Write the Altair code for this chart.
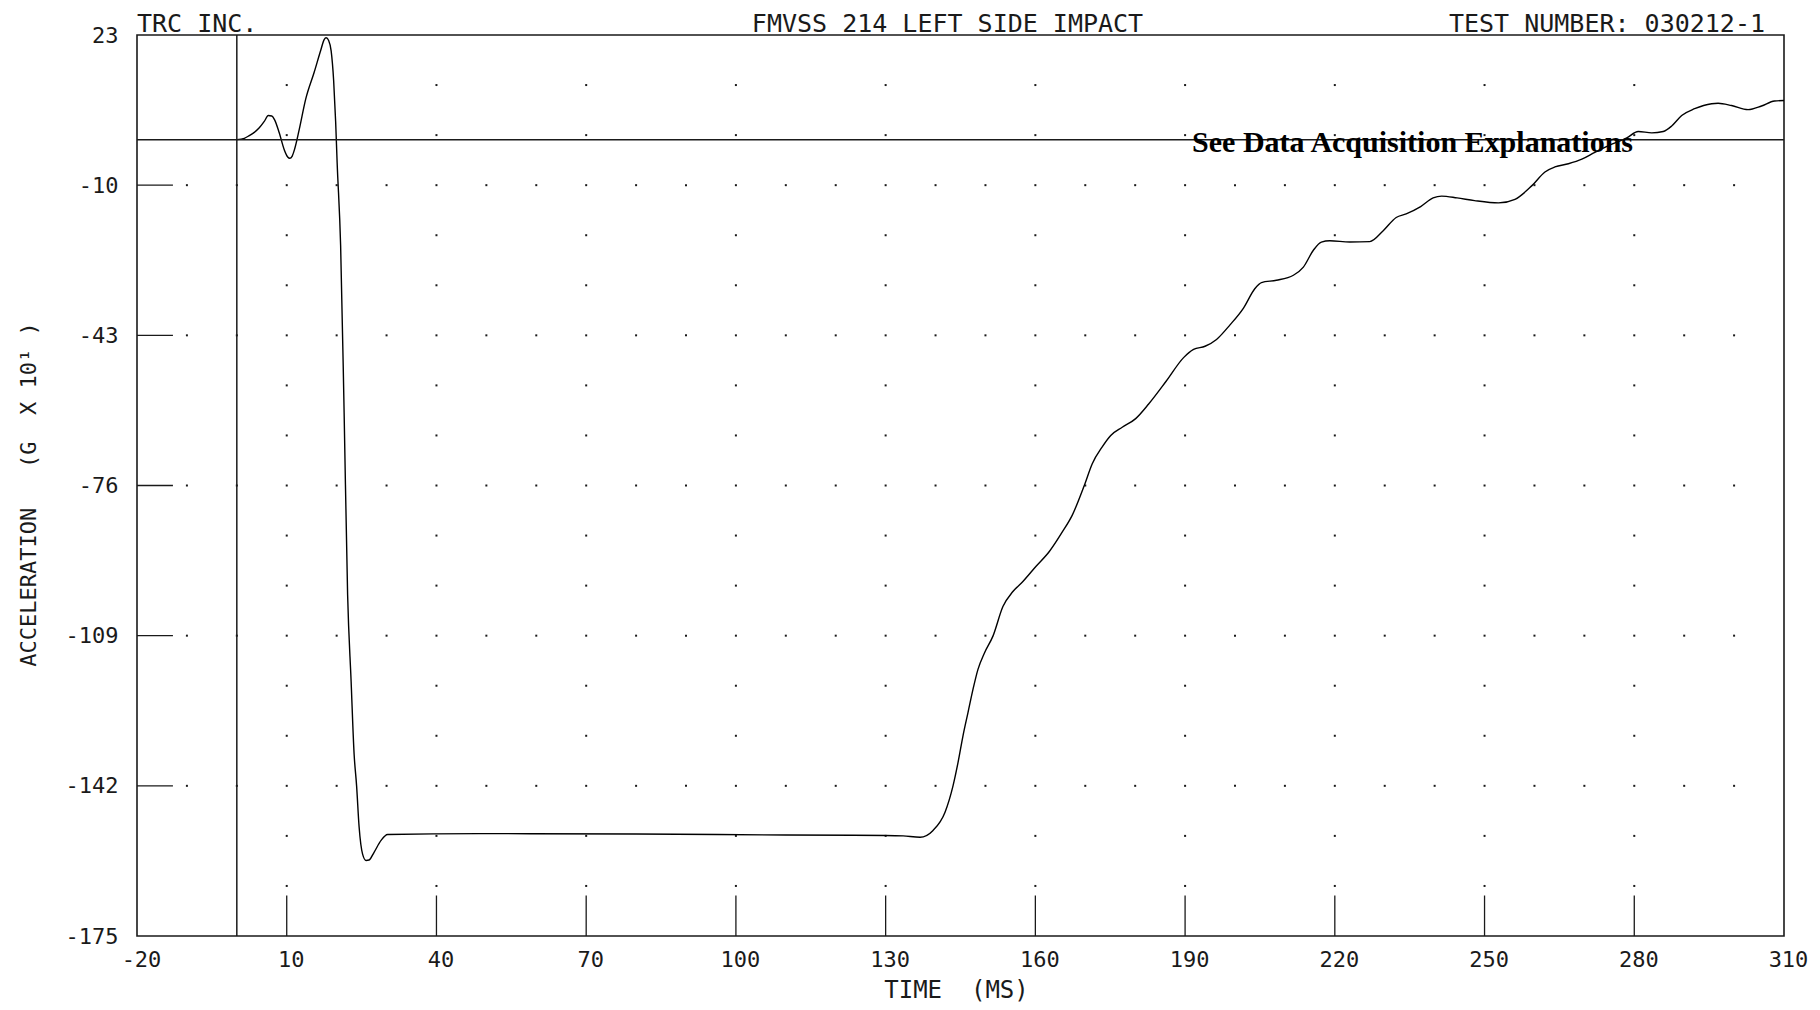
import altair as alt
import pandas as pd

# ---- data ----
TIME_MS = [0, 1.5, 2.5, 3.5, 4.5, 5.5, 6.3, 7.0, 7.6, 8.5, 9.5, 10.2, 10.6, 11.1, 11.6,
           12.5, 13.8, 15.5, 16.8, 17.5, 17.9, 18.4, 18.9, 19.4, 19.8, 20.1, 20.8, 21.5,
           22.2, 22.9, 23.5, 24.0, 24.5, 25.2, 25.9, 26.5, 27.5, 28.9, 30.2, 48.5, 80,
           110, 130, 133.5, 136.9, 139.5, 141.9, 143.5, 144.5, 145.5, 146.5, 147.5,
           148.5, 149.8, 151.5, 153.5, 155.5, 157.5, 160.1, 162.8, 165.4, 167.4, 169.8,
           171.4, 173.4, 175.1, 177.4, 180.1, 182.7, 186.2, 189.7, 191.7, 194, 196.3,
           199, 201.7, 204, 205.3, 208.3, 211.7, 213.7, 215.7, 217.3, 219, 223, 227,
           229.7, 232.3, 234.3, 237.2, 239.7, 241.4, 244.5, 248, 252.8, 256.1, 259.5,
           262.1, 264.1, 266.8, 269.5, 272.1, 275.5, 278.5, 280.8, 283.5, 285.8, 287.5,
           289.5, 292.1, 295.5, 296.8, 299.5, 302.8, 305.5, 308.1, 310]
ACCEL = [0, 0.3, 0.9, 1.6, 2.6, 4.0, 5.3, 5.2, 4.3, 1.5, -2.2, -3.8, -4.1, -3.6, -2.0,
         2.2, 8.9, 14.8, 19.6, 22.0, 22.4, 21.8, 19.5, 13, 4, -5, -23.3, -60,
         -100, -119, -135, -142, -151, -157, -158.4, -158.3, -156.6, -154, -152.7, -152.5, -152.6,
         -152.8, -152.9, -153.0, -153.3, -151.8, -147.8, -142, -136.9, -131, -125.9, -120.8,
         -116.4, -112.8, -109.1, -102.6, -99.3, -97.1, -93.8, -90.5, -86.2, -82.5, -76,
         -71.2, -67.5, -65, -63.2, -61.3, -58.1, -53.1, -47.9, -46.1, -45.4, -43.9,
         -40.7, -37, -32.7, -31.4, -30.9, -29.8, -28, -24.3, -22.5, -22.2, -22.5, -22.4,
         -20, -17.1, -16.3, -14.7, -12.8, -12.4, -12.8, -13.4, -13.9, -13.1, -10.1,
         -7.1, -6, -5.3, -4.3, -2.8, -1, 0.4, 1.8, 1.5, 1.8, 3,
         5.3, 6.8, 7.9, 8.0, 7.5, 6.6, 7.4, 8.5, 8.6]

X_LABELS = [-20, 10, 40, 70, 100, 130, 160, 190, 220, 250, 280, 310]
Y_LABELS = [23, -10, -43, -76, -109, -142, -175]
X_TICKS = [10, 40, 70, 100, 130, 160, 190, 220, 250, 280]
Y_TICKS = [-10, -43, -76, -109, -142]
DOT_ROWS_FULL = [-10, -43, -76, -109, -142]
DOT_ROWS_SPARSE = [12, 1, -21, -32, -54, -65, -87, -98, -120, -131, -153, -164]
DOT_COLS_FULL = [-10, 0, 10, 20, 30, 40, 50, 60, 70, 80, 90, 100, 110, 120, 130, 140,
                 150, 160, 170, 180, 190, 200, 210, 220, 230, 240, 250, 260, 270, 280,
                 290, 300]
DOT_COLS_SPARSE = [10, 40, 70, 100, 130, 160, 190, 220, 250, 280]

X_MIN, X_MAX = -20, 310
Y_MIN, Y_MAX = -175, 23
Y_TICK_LEN_MS = 7.2
X_TICK_LEN_G = 8.9

NB = "\u00a0"
X_TITLE = "TIME" + NB * 2 + "(MS)"
Y_TITLE = "ACCELERATION" + NB * 3 + "(G" + NB * 2 + "X" + NB + "10\u00b9" + NB + ")"
NOTE = "See Data Acquisition Explanations"
NOTE_T, NOTE_A = 191.4, -2.8

MONO = "DejaVu Sans Mono"
INK = "#1a1a1a"

# ---- tables ----
curve = pd.DataFrame({"t": TIME_MS, "a": ACCEL})
dots = pd.DataFrame(
    [{"t": c, "a": r} for r in DOT_ROWS_FULL for c in DOT_COLS_FULL]
    + [{"t": c, "a": r} for r in DOT_ROWS_SPARSE for c in DOT_COLS_SPARSE]
)
yt = pd.DataFrame({"a": Y_TICKS, "t": [X_MIN] * len(Y_TICKS),
                   "t2": [X_MIN + Y_TICK_LEN_MS] * len(Y_TICKS)})
xt = pd.DataFrame({"t": X_TICKS, "a": [Y_MIN] * len(X_TICKS),
                   "a2": [Y_MIN + X_TICK_LEN_G] * len(X_TICKS)})

xs = alt.Scale(domain=[X_MIN, X_MAX], nice=False, zero=False)
ys = alt.Scale(domain=[Y_MIN, Y_MAX], nice=False, zero=False)

x_axis = alt.Axis(values=X_LABELS, labelExpr="'' + datum.value", domain=False, ticks=False,
                  tickSize=0, grid=False, labelFont=MONO, labelFontSize=22, labelColor=INK,
                  labelBaseline="middle", labelPadding=23, labelOffset=4, labelFlush=False,
                  labelOverlap=False, title=X_TITLE, titleFont=MONO, titleFontSize=24,
                  titleFontWeight="normal", titleColor=INK, titleX=819, titleY=54,
                  titleBaseline="middle", titleAlign="center")
y_axis = alt.Axis(values=Y_LABELS, labelExpr="'' + datum.value", domain=False, ticks=False,
                  tickSize=0, grid=False, labelFont=MONO, labelFontSize=22, labelColor=INK,
                  labelBaseline="middle", labelAlign="right", labelPadding=19,
                  labelFlush=False, labelOverlap=False,
                  title=Y_TITLE, titleFont=MONO, titleFontSize=22,
                  titleFontWeight="normal", titleColor=INK, titleAngle=270, titleX=-109,
                  titleY=459, titleBaseline="middle", titleAlign="center")

X = alt.X("t:Q", scale=xs, axis=x_axis)
Y = alt.Y("a:Q", scale=ys, axis=y_axis)

line = alt.Chart(curve).mark_line(color="black", strokeWidth=1.4, interpolate="monotone").encode(
    x=X, y=Y)

dot_layer = alt.Chart(dots).mark_square(size=4, color="black", opacity=0.9).encode(x=X, y=Y)

ytick_layer = alt.Chart(yt).mark_rule(color=INK, strokeWidth=1.3).encode(x=X, x2="t2:Q", y=Y)
xtick_layer = alt.Chart(xt).mark_rule(color=INK, strokeWidth=1.3).encode(x=X, y=Y, y2="a2:Q")

zero_h = alt.Chart(pd.DataFrame({"a": [0]})).mark_rule(color=INK, strokeWidth=1.5).encode(y=Y)
zero_v = alt.Chart(pd.DataFrame({"t": [0]})).mark_rule(color=INK, strokeWidth=1.5).encode(x=X)

h_left = alt.Chart(pd.DataFrame({"t": [X_MIN], "a": [Y_MAX]})).mark_text(
    text="TRC" + NB + "INC.", align="left", baseline="alphabetic", dy=-3.5,
    font=MONO, fontSize=25, color=INK).encode(x=X, y=Y)
h_mid = alt.Chart(pd.DataFrame({"t": [(X_MIN + X_MAX) / 2], "a": [Y_MAX]})).mark_text(
    text="FMVSS 214 LEFT SIDE IMPACT", align="center", baseline="alphabetic", dy=-3.5, dx=-13,
    font=MONO, fontSize=25, color=INK).encode(x=X, y=Y)
h_right = alt.Chart(pd.DataFrame({"t": [X_MAX], "a": [Y_MAX]})).mark_text(
    text="TEST NUMBER: 030212-1", align="right", baseline="alphabetic", dy=-3.5, dx=-19,
    font=MONO, fontSize=25, color=INK).encode(x=X, y=Y)

note = alt.Chart(pd.DataFrame({"t": [NOTE_T], "a": [NOTE_A]})).mark_text(
    text=NOTE, align="left", baseline="alphabetic", font="Liberation Serif", fontSize=30,
    fontWeight="bold", color="black").encode(x=X, y=Y)

chart = alt.layer(
    line, dot_layer, ytick_layer, xtick_layer, zero_h, zero_v, h_left, h_mid, h_right, note
).properties(
    width=1647, height=901,
    padding={"left": 129, "top": 27, "right": 24, "bottom": 70},
    autosize=alt.AutoSizeParams(type="none"),
    background="white",
).configure_view(stroke=INK, strokeWidth=1.6)

chart.save("out.html", embed_options={"renderer": "svg", "actions": False})
